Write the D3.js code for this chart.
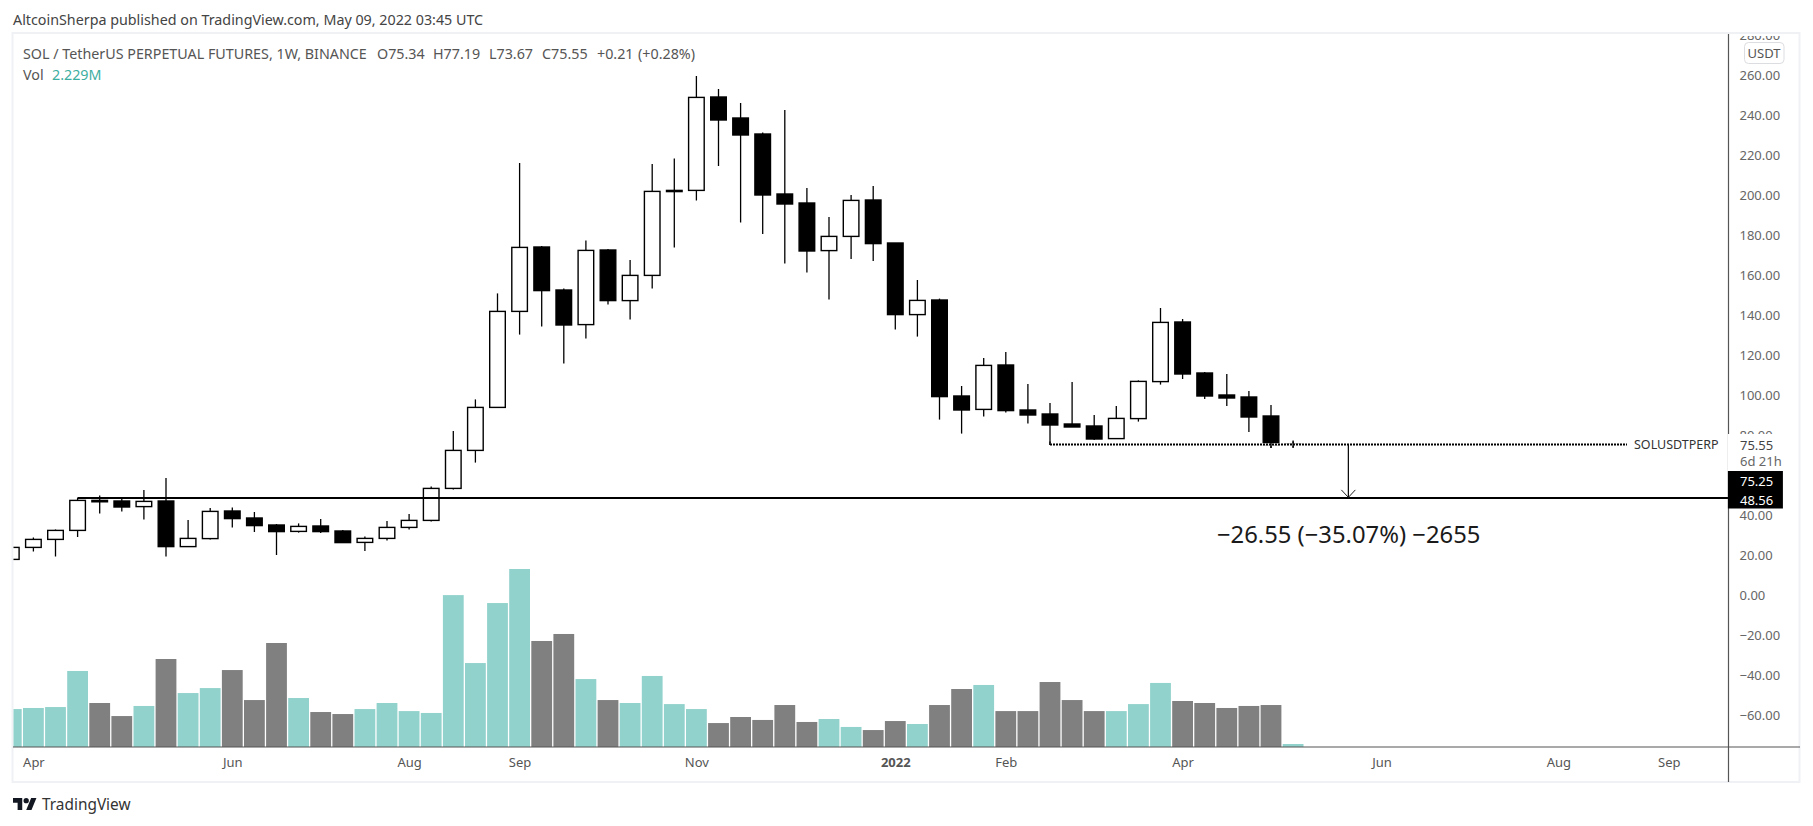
<!DOCTYPE html>
<html>
<head>
<meta charset="utf-8">
<title>SOLUSDTPERP 1W</title>
<script src="https://cdn.jsdelivr.net/npm/d3@7"></script>
<style>
  html, body { margin: 0; padding: 0; background: #fff; }
  svg { display: block; }
  text { font-family: "Noto Sans", sans-serif; }
</style>
</head>
<body>
<div id="vis"></div>
<script>
// weekly candles, index 0 = first visible week (Mar 29 2021)
const opens = [17.8, 23.8, 27.8, 32.3, 47.3, 47, 44.2, 47, 24.2, 28.2, 42, 38.5, 35, 31.8, 34.5, 32, 26.3, 28.3, 33.8, 37.3,
  53.3, 72.3, 93.8, 141.8, 174, 152.5, 135.2, 172.5, 147.2, 159.8, 201.7, 202.3, 249, 238.5, 230.5, 200.5, 196, 172.2, 179.3, 197.5,
  176, 140.2, 147.5, 99.5, 92.8, 115, 92.5, 90.5, 85.5, 84.5, 78.2, 88.2, 106.7, 136.5, 111, 100, 99, 89.5, 75.34];
const highs = [24, 28.8, 32.8, 48.6, 49.8, 48.5, 52.5, 58.5, 37.5, 43.5, 43.8, 41.5, 35.5, 35.8, 38, 32.5, 29.3, 37, 40.5, 54.3,
  82, 97.8, 150.8, 216, 174.5, 153.3, 177.3, 173, 167.5, 215.5, 218.3, 259.5, 253, 246, 231.3, 242.5, 203.5, 189, 200, 204.5,
  176, 157.5, 148.2, 104.5, 118.5, 121.5, 105.5, 96, 106.5, 90, 94.5, 107.3, 143.5, 138, 111.5, 110.5, 102, 95, 77.19];
const lows = [17.8, 21.7, 19.2, 29, 40.7, 41.7, 37.7, 19.2, 24, 27.7, 33.7, 31.5, 20, 31.2, 31, 26, 22, 27.2, 32.7, 36.7,
  52.7, 66.2, 93.8, 130.2, 134.2, 115.7, 128.2, 145.2, 137.7, 153.2, 173.7, 197.2, 214.5, 186.2, 180.5, 165.7, 161.2, 147.7, 168, 167,
  132.7, 129.2, 87.7, 80.7, 89.2, 91.2, 85.7, 75, 84, 77.5, 78, 86.7, 105.2, 108, 98, 94.5, 81.5, 73.5, 73.67];
const closes = [23.8, 27.8, 32.3, 47.3, 46.6, 44, 46.8, 24.2, 28.3, 41.8, 38.2, 34.7, 31.7, 34.3, 31.7, 26.2, 28.3, 33.8, 37.3, 53.3,
  72.3, 93.8, 141.8, 173.8, 152.2, 135, 172.3, 147.2, 159.8, 201.8, 202.3, 248.8, 237.5, 230, 200, 195.5, 172, 179.3, 197.3, 175.7,
  140.2, 147.3, 99.2, 92.5, 114.8, 92.2, 90, 85, 84, 78, 88.3, 106.8, 136.3, 110.5, 99.5, 98.5, 89, 75, 75.55];
// volume in millions
const volumes = [28.2, 29, 29.7, 56.5, 32.7, 23, 30.5, 65.4, 40.1, 43.8, 57.2, 34.9, 77.3, 36.4, 26, 24.5, 28.2, 32.7, 26.7, 25.3,
  112.9, 62.4, 107, 132.3, 78.8, 84, 50.5, 34.9, 32.7, 52.8, 31.9, 28.2, 17.8, 22.3, 20.1, 31.2, 18.6, 20.8, 14.9, 12.6,
  19.3, 17.1, 31.2, 43.1, 46.1, 26.7, 26.7, 48.3, 34.9, 26.7, 26.7, 31.9, 47.6, 34.2, 32.7, 29, 30.5, 31.2, 2.229];

const priceTicks = [280, 260, 240, 220, 200, 180, 160, 140, 120, 100, 80, 60, 40, 20, 0, -20, -40, -60];
const timeTicks = [1, 10, 18, 23, 31, 40, 45, 53, 62, 70, 75];
const timeLabels = ["Apr", "Jun", "Aug", "Sep", "Nov", "2022", "Feb", "Apr", "Jun", "Aug", "Sep"];
const legendLabels = ["SOL / TetherUS PERPETUAL FUTURES, 1W, BINANCE", "O75.34", "H77.19", "L73.67", "C75.55", "+0.21", "(+0.28%)"];
const legendStarts = [23, 377, 433, 489, 542, 597, 638];

const supportLevel = 48.56;
const entryLevel = 75.25;
const lastPrice = 75.55;

const width = 1813;
const height = 826;
const frame = { left: 13, top: 33, right: 1800, bottom: 782 };
const axisX = 1728.5;
const axisY = 747;
const textColor = "#555";

const svg = d3.select("#vis").append("svg")
  .attr("width", width)
  .attr("height", height);

const x = d3.scaleLinear().domain([0, 58]).range([11.3, 1293.1]);
const y = d3.scaleLinear().domain([-76, 281]).range([axisY, frame.top]);
const yVol = d3.scaleLinear().domain([0, 132.3]).range([axisY, 569]);

const defs = svg.append("defs");
defs.append("clipPath").attr("id", "pane")
  .append("rect")
  .attr("x", frame.left + 0.5).attr("y", frame.top)
  .attr("width", axisX - frame.left).attr("height", axisY - frame.top);
defs.append("clipPath").attr("id", "scale")
  .append("rect")
  .attr("x", axisX).attr("y", frame.top + 3)
  .attr("width", frame.right - axisX).attr("height", axisY - frame.top);

svg.append("rect")
  .attr("x", frame.left - 0.5).attr("y", frame.top)
  .attr("width", frame.right - frame.left).attr("height", frame.bottom - frame.top)
  .attr("fill", "none")
  .attr("stroke", "#f0f1f4")
  .attr("stroke-width", 2);

// volume
svg.append("g").attr("clip-path", "url(#pane)")
  .selectAll("rect")
  .data(volumes)
  .join("rect")
  .attr("x", (d, i) => x(i) - 10.4)
  .attr("width", 20.8)
  .attr("y", (d) => yVol(d))
  .attr("height", (d) => axisY - yVol(d))
  .attr("fill", (d, i) => (closes[i] >= opens[i] ? "#92d2cc" : "#808080"));

// candles
const candles = svg.append("g").attr("clip-path", "url(#pane)");
candles.selectAll("line")
  .data(opens)
  .join("line")
  .attr("x1", (d, i) => x(i))
  .attr("x2", (d, i) => x(i))
  .attr("y1", (d, i) => y(highs[i]))
  .attr("y2", (d, i) => y(lows[i]))
  .attr("stroke", "#000")
  .attr("stroke-width", 1.3);
candles.selectAll("rect")
  .data(opens)
  .join("rect")
  .attr("x", (d, i) => x(i) - 7.8)
  .attr("width", 15.6)
  .attr("y", (d, i) => y(Math.max(d, closes[i])))
  .attr("height", (d, i) => Math.abs(y(d) - y(closes[i])))
  .attr("fill", (d, i) => (closes[i] >= d ? "#fff" : "#000"))
  .attr("stroke", "#000")
  .attr("stroke-width", 1.4);

// drawings on the price pane
svg.append("line")
  .attr("x1", x(3)).attr("x2", axisX)
  .attr("y1", y(supportLevel)).attr("y2", y(supportLevel))
  .attr("stroke", "#000")
  .attr("stroke-width", 2);

// dotted line sits on a white one, so it reads through the last candle
[{ stroke: "#fff", dash: null, w: 2.6 }, { stroke: "#000", dash: "2 1", w: 1.8 }].forEach((s) => {
  svg.append("line")
    .attr("x1", x(47)).attr("x2", 1627)
    .attr("y1", y(entryLevel)).attr("y2", y(entryLevel))
    .attr("stroke", s.stroke)
    .attr("stroke-width", s.w)
    .attr("stroke-dasharray", s.dash);
});

// the wicks that cross the dotted line stay on top of it
const crossing = d3.range(opens.length).filter((i) => i >= 47 && lows[i] < entryLevel && highs[i] > entryLevel);
svg.append("g")
  .selectAll("line")
  .data(crossing)
  .join("line")
  .attr("x1", (i) => x(i))
  .attr("x2", (i) => x(i))
  .attr("y1", (i) => y(Math.min(highs[i], entryLevel + 1.5)))
  .attr("y2", (i) => y(lows[i]))
  .attr("stroke", "#000")
  .attr("stroke-width", 1.3);

const arrowX = x(60.5);
svg.append("line")
  .attr("x1", arrowX).attr("x2", arrowX)
  .attr("y1", y(entryLevel)).attr("y2", y(supportLevel))
  .attr("stroke", "#000")
  .attr("stroke-width", 1.2);
svg.append("path")
  .attr("d", d3.line()([[arrowX - 7, y(supportLevel) - 8], [arrowX, y(supportLevel) - 0.5], [arrowX + 7, y(supportLevel) - 8]]))
  .attr("fill", "none")
  .attr("stroke", "#222")
  .attr("stroke-width", 1);

svg.append("text")
  .attr("x", 1217)
  .attr("y", 543)
  .attr("font-size", 23.8)
  .attr("fill", "#1a1a1a")
  .text("\u221226.55 (\u221235.07%) \u22122655");

svg.append("text")
  .attr("x", 1634)
  .attr("y", 449)
  .attr("font-size", 12.5)
  .attr("fill", "#333")
  .text("SOLUSDTPERP");

// price axis
const priceAxis = svg.append("g")
  .attr("clip-path", "url(#scale)")
  .append("g")
  .attr("transform", `translate(${axisX},0)`)
  .call(d3.axisRight(y).tickValues(priceTicks).tickSize(0).tickPadding(11).tickFormat(d3.format(".2f")));
priceAxis.select(".domain").remove();
priceAxis.selectAll("text")
  .attr("font-size", 13)
  .attr("font-family", null)
  .attr("fill", "#666");

// axis lines
svg.append("line")
  .attr("x1", axisX).attr("x2", axisX)
  .attr("y1", frame.top + 1).attr("y2", frame.bottom)
  .attr("stroke", "#555")
  .attr("stroke-width", 1.2);
svg.append("line")
  .attr("x1", frame.left).attr("x2", frame.right)
  .attr("y1", axisY).attr("y2", axisY)
  .attr("stroke", "#555")
  .attr("stroke-width", 1.2);

// time axis
const timeAxis = svg.append("g")
  .attr("transform", `translate(0,${axisY})`)
  .call(d3.axisBottom(x).tickValues(timeTicks).tickSize(0).tickPadding(11).tickFormat((d, i) => timeLabels[i]));
timeAxis.select(".domain").remove();
timeAxis.selectAll("text")
  .attr("font-size", 13)
  .attr("font-family", null)
  .attr("fill", textColor)
  .attr("font-weight", (d, i) => (timeLabels[i] === "2022" ? "bold" : "normal"));

// last price box, then the two black level boxes
svg.append("rect")
  .attr("x", axisX - 0.6).attr("y", 434)
  .attr("width", 62).attr("height", 37)
  .attr("fill", "#fff");
svg.append("text")
  .attr("x", 1740).attr("y", 450)
  .attr("font-size", 13)
  .attr("fill", "#444")
  .text(d3.format(".2f")(lastPrice));
svg.append("text")
  .attr("x", 1740).attr("y", 466)
  .attr("font-size", 13)
  .attr("fill", "#666")
  .text("6d 21h");
svg.append("rect")
  .attr("x", axisX - 0.6).attr("y", 471)
  .attr("width", 55).attr("height", 37.5)
  .attr("fill", "#000");
svg.append("text")
  .attr("x", 1740).attr("y", 486)
  .attr("font-size", 13)
  .attr("fill", "#fff")
  .text(d3.format(".2f")(entryLevel));
svg.append("text")
  .attr("x", 1740).attr("y", 505)
  .attr("font-size", 13)
  .attr("fill", "#fff")
  .text(d3.format(".2f")(supportLevel));

// currency badge
svg.append("rect")
  .attr("x", 1744.5).attr("y", 42.5)
  .attr("width", 39.5).attr("height", 21)
  .attr("rx", 4)
  .attr("fill", "#fff")
  .attr("stroke", "#dcdde0");
svg.append("text")
  .attr("x", 1764).attr("y", 57.5)
  .attr("text-anchor", "middle")
  .attr("font-size", 13)
  .attr("fill", textColor)
  .text("USDT");

// header and legend
svg.append("text")
  .attr("x", 13).attr("y", 24.5)
  .attr("font-size", 14.3)
  .attr("fill", "#444")
  .text("AltcoinSherpa published on TradingView.com, May 09, 2022 03:45 UTC");
svg.append("g")
  .selectAll("text")
  .data(legendLabels)
  .join("text")
  .attr("x", (d, i) => legendStarts[i])
  .attr("y", 58.5)
  .attr("font-size", 14.3)
  .attr("fill", textColor)
  .text((d) => d);
svg.append("text")
  .attr("x", 23).attr("y", 80)
  .attr("font-size", 14.3)
  .attr("fill", textColor)
  .text("Vol");
svg.append("text")
  .attr("x", 52).attr("y", 80)
  .attr("font-size", 14.3)
  .attr("fill", "#3cae9f")
  .text("2.229M");

// footer logo
const logo = svg.append("g")
  .attr("transform", "translate(13,795.4) scale(0.66)")
  .attr("fill", "#131722");
logo.append("path").attr("d", "M14 22H7V11H0V4h14v18zM28 22h-8l7.5-18h8L28 22z");
logo.append("circle").attr("cx", 20).attr("cy", 8).attr("r", 4);
svg.append("text")
  .attr("x", 42).attr("y", 810)
  .attr("font-size", 15.4)
  .attr("fill", "#333")
  .text("TradingView");
</script>
</body>
</html>
